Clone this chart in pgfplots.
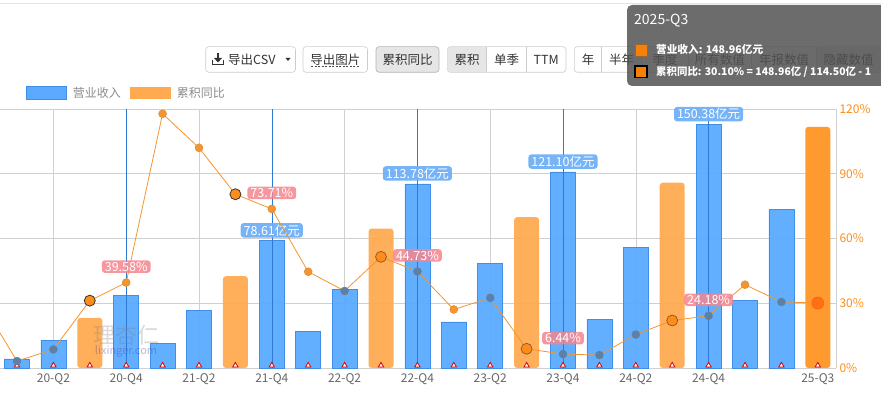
\documentclass[border=0pt]{standalone}
\usepackage{fontspec}
\setmainfont{Noto Sans CJK SC}
\usepackage{graphicx}
\usepackage{pgfplots}
\usepackage{pgfplotstable}
\pgfplotsset{compat=1.18}
\definecolor{barblue}{HTML}{5AAAFF}
\definecolor{baredge}{HTML}{3F8FEA}
\definecolor{barorange}{HTML}{FFAA50}
\definecolor{barorangeB}{HTML}{FF9A2E}
\definecolor{lineorange}{HTML}{F39530}
\definecolor{tickorange}{HTML}{FF8C1A}
\definecolor{qline}{HTML}{2B7BD6}
\definecolor{gridgray}{HTML}{D0D0D0}
\definecolor{textgray}{HTML}{666666}
\definecolor{pinklab}{HTML}{F4858E}
\definecolor{bluelab}{HTML}{6FB0F7}
\definecolor{dimdot}{HTML}{5E80A4}
\definecolor{btnborder}{HTML}{CCCCCC}
\definecolor{btnactive}{HTML}{E6E6E6}

\pgfplotstableread{
x rev
0 5.7
1 17.2
3 45.0
4 15.2
5 35.7
7 78.61
8 22.4
9 48.5
11 113.78
12 28.5
13 64.7
15 121.10
16 30.2
17 74.7
19 150.38
20 41.9
21 98.0
}\bluebars

\pgfplotstableread{
x rev
2 31.0
6 56.7
10 86.1
14 93.2
18 114.50
}\orangebars

\pgfplotstableread{
x g
-1 31.0
0 3.2
1 8.6
2 31.2
3 39.58
4 117.8
5 102.0
6 80.5
7 73.71
8 44.6
9 35.7
10 51.5
11 44.73
12 27.1
13 32.5
14 8.9
15 6.44
16 6.0
17 15.5
18 22.0
19 24.18
20 38.6
21 30.6
22 30.10
}\growth

\newcommand{\fs}[1]{\fontsize{#1}{#1}\selectfont}

\begin{document}
\begin{tikzpicture}[x=1pt,y=1pt]
\useasboundingbox (0,0) rectangle (881,393);
\draw[gridgray!60, line width=0.6pt] (0,390) -- (881,390);

% ---- axis A: grid, ticks ----
\begin{axis}[at={(0pt,25pt)}, anchor=south west, scale only axis,
  width=836pt, height=259pt,
  xmin=-0.467, xmax=22.5, ymin=0, ymax=120,
  axis x line*=bottom, axis y line*=right,
  axis line style={draw=gridgray, line width=0.6pt, -},
  ytick={0,30,60,90,120},
  yticklabel={\pgfmathprintnumber{\tick}\%},
  yticklabel style={text=tickorange, font=\fs{12}},
  xtick={1,3,5,7,9,11,13,15,17,19,22},
  xticklabels={20-Q2,20-Q4,21-Q2,21-Q4,22-Q2,22-Q4,23-Q2,23-Q4,24-Q2,24-Q4,25-Q3},
  xticklabel style={text=textgray, font=\fs{12}, yshift=-2pt},
  major tick length=0pt,
  /pgf/number format/assume math mode=true,
  ymajorgrids, grid style={gridgray, line width=0.6pt},
  extra x ticks={1,5,9,13,17}, extra x tick labels={},
  extra x tick style={grid=major, major tick length=0pt},
]
\end{axis}

% ---- axis B: bars ----
\begin{axis}[at={(0pt,25pt)}, anchor=south west, scale only axis,
  width=836pt, height=259pt,
  xmin=-0.467, xmax=22.5, ymin=0, ymax=160,
  hide axis, clip=false]
\addplot[ybar, bar width=25pt, bar shift=0pt, fill=barblue, draw=baredge, line width=0.5pt, fill opacity=0.95]
  table[x=x, y=rev] {\bluebars};
\addplot[ybar, bar width=25pt, bar shift=0pt, fill=barorange, draw=none, rounded corners=3pt, fill opacity=0.95]
  table[x=x, y=rev] {\orangebars};
\addplot[ybar, bar width=25pt, bar shift=0pt, fill=barorangeB, draw=none, rounded corners=3pt]
  coordinates {(22,148.96)};
\pgfplotsinvokeforeach{3,7,11,15,19}{
  \draw[qline, line width=0.6pt] (axis cs:#1,0) -- (axis cs:#1,160);
}
\addplot[only marks, mark=triangle*, mark size=3pt,
  mark options={draw=red!85!black, fill=white, line width=0.8pt}]
  coordinates {(0,1.6) (1,1.6) (2,1.6) (3,1.6) (4,1.6) (5,1.6) (6,1.6) (7,1.6)
  (8,1.6) (9,1.6) (10,1.6) (11,1.6) (12,1.6) (13,1.6) (14,1.6) (15,1.6)
  (16,1.6) (17,1.6) (18,1.6) (19,1.6) (20,1.6) (21,1.6) (22,1.6)};
\tikzset{blab/.style={fill=bluelab, fill opacity=0.95, text opacity=1, text=white,
  rounded corners=3pt, inner xsep=3pt, inner ysep=1.5pt, font=\fs{12.5}, anchor=south, yshift=3pt}}
\node[blab] at (axis cs:7,78.61) {78.61亿元};
\node[blab] at (axis cs:11,113.78) {113.78亿元};
\node[blab] at (axis cs:15,121.10) {121.10亿元};
\node[blab] at (axis cs:19,150.38) {150.38亿元};
\end{axis}

% ---- axis C: growth line ----
\begin{axis}[at={(0pt,25pt)}, anchor=south west, scale only axis,
  width=836pt, height=259pt,
  xmin=-0.467, xmax=22.5, ymin=0, ymax=120,
  hide axis, clip=true]
\addplot[lineorange, line width=0.8pt, no markers] table[x=x, y=g] {\growth};
\addplot[only marks, mark=*, mark size=4pt, mark options={fill=lineorange, draw=lineorange!90!black, line width=0.4pt}]
  coordinates {(3,39.58) (4,117.8) (5,102.0) (7,73.71) (8,44.6) (12,27.1) (20,38.6)};
\addplot[only marks, mark=*, mark size=4pt, mark options={fill=dimdot, draw=dimdot, line width=0.4pt}]
  coordinates {(0,3.2) (1,8.6) (9,35.7) (11,44.73) (13,32.5) (15,6.44) (16,6.0) (17,15.5) (19,24.18) (21,30.6)};
\addplot[only marks, mark=*, mark size=5.5pt, mark options={fill=tickorange!90!lineorange, draw=black!80, line width=0.8pt}]
  coordinates {(2,31.2) (6,80.5)};
\addplot[only marks, mark=*, mark size=5.5pt, mark options={fill=tickorange, draw=brown!70!black, line width=0.7pt}]
  coordinates {(10,51.5) (14,8.9) (18,22.0)};
\addplot[only marks, mark=*, mark size=6pt, mark options={fill=tickorange!80!red, draw=tickorange!70!red, line width=0.7pt}]
  coordinates {(22,30.10)};
\tikzset{plab/.style={fill=pinklab, fill opacity=0.85, text opacity=1, text=white,
  rounded corners=3pt, inner xsep=3pt, inner ysep=1.5pt, font=\fs{12.5}, yshift=16pt}}
\node[plab] at (axis cs:3,39.58) {39.58\%};
\node[plab] at (axis cs:7,73.71) {73.71\%};
\node[plab] at (axis cs:11,44.73) {44.73\%};
\node[plab] at (axis cs:15,6.44) {6.44\%};
\node[plab] at (axis cs:19,24.18) {24.18\%};
\end{axis}

% ---- watermark ----
\node[text=gray, opacity=0.3, font=\fs{22}] at (126,58) {理杏仁};
\node[text=blue!40!gray, opacity=0.4, font=\fs{11}] at (126,41) {lixinger.com};

% ---- legend ----
\fill[barblue, draw=baredge, line width=0.5pt] (26,294) rectangle (66.7,306.3);
\node[anchor=west, text=gray!90, font=\fs{12}, inner sep=0pt] at (72.7,300.5) {营业收入};
\fill[barorange] (130,294) rectangle (170.7,306.3);
\node[anchor=west, text=gray!90, font=\fs{12}, inner sep=0pt] at (176.7,300.5) {累积同比};

% ---- toolbar ----
\tikzset{btn/.style={draw=btnborder, line width=0.6pt, rounded corners=3pt},
  btxt/.style={text=black!80, font=\fs{12.5}, inner sep=0pt}}
\draw[btn, fill=white] (205.7,320.7) rectangle (295.5,346.3);
\draw[black!80, line width=1.6pt] (218,340) -- (218,333.5);
\fill[black!80] (214,335) -- (222,335) -- (218,330.5) -- cycle;
\draw[black!80, line width=1.4pt] (212.5,333) -- (212.5,328.5) -- (223.5,328.5) -- (223.5,333);
\node[btxt, anchor=west] at (228,333.5) {导出CSV};
\fill[black!80] (285.5,335) -- (290.5,335) -- (288,332) -- cycle;
\draw[btn, fill=white] (303,320.7) rectangle (367.5,346.3);
\node[btxt] at (335.3,333.5) {导出图片};
\draw[black!70, dashed, line width=0.5pt, dash pattern=on 2pt off 1.5pt] (311,326.5) -- (360,326.5);
\draw[btn, draw=black!30, fill=btnactive] (376,320.7) rectangle (439,346.3);
\node[btxt] at (407.5,333.5) {累积同比};
% group 2
\draw[btn, fill=white] (447.3,320.7) rectangle (566,346.3);
\fill[btnactive, rounded corners=3pt] (447.6,321) rectangle (486.7,346);
\fill[btnactive] (470,321) rectangle (486.7,346);
\draw[btnborder, line width=0.6pt] (486.7,320.7) -- (486.7,346.3);
\draw[btnborder, line width=0.6pt] (526.7,320.7) -- (526.7,346.3);
\node[btxt] at (467,333.5) {累积};
\node[btxt] at (506.7,333.5) {单季};
\node[btxt] at (546.3,333.5) {TTM};
% group 3
\draw[btn, fill=white] (574.3,320.7) rectangle (885,346.3);
\fill[btnactive] (816.7,321) rectangle (881,346);
\foreach \xx in {601.7,641.7,688,751.7,816.7}{
  \draw[btnborder, line width=0.6pt] (\xx,320.7) -- (\xx,346.3);
}
\node[btxt] at (588,333.5) {年};
\node[btxt] at (621.7,333.5) {半年};
\node[btxt] at (664.8,333.5) {季度};
\node[btxt] at (719.8,333.5) {所有数值};
\node[btxt] at (784.2,333.5) {年报数值};
\node[btxt] at (848.5,333.5) {隐藏数值};

% ---- tooltip ----
\fill[black!68, opacity=0.85, rounded corners=5pt] (627,307) rectangle (887,388);
\node[anchor=west, text=white, font=\fs{14}, inner sep=0pt] at (634,372) {2025-Q3};
\filldraw[fill=orange!85!brown, draw=brown!80!black, line width=0.8pt] (635,336.5) rectangle (647,349);
\node[anchor=west, text=white, font=\bfseries\fs{11.5}, inner sep=0pt] at (656,344) {\resizebox{107pt}{!}{营业收入: 148.96亿元}};
\filldraw[fill=orange!90!brown, draw=black, line width=1.2pt] (635,315.5) rectangle (647,327);
\node[anchor=west, text=white, font=\bfseries\fs{11.5}, inner sep=0pt] at (656,321) {\resizebox{215pt}{!}{累积同比: 30.10\% = 148.96亿 / 114.50亿 - 1}};
\end{tikzpicture}
\end{document}
